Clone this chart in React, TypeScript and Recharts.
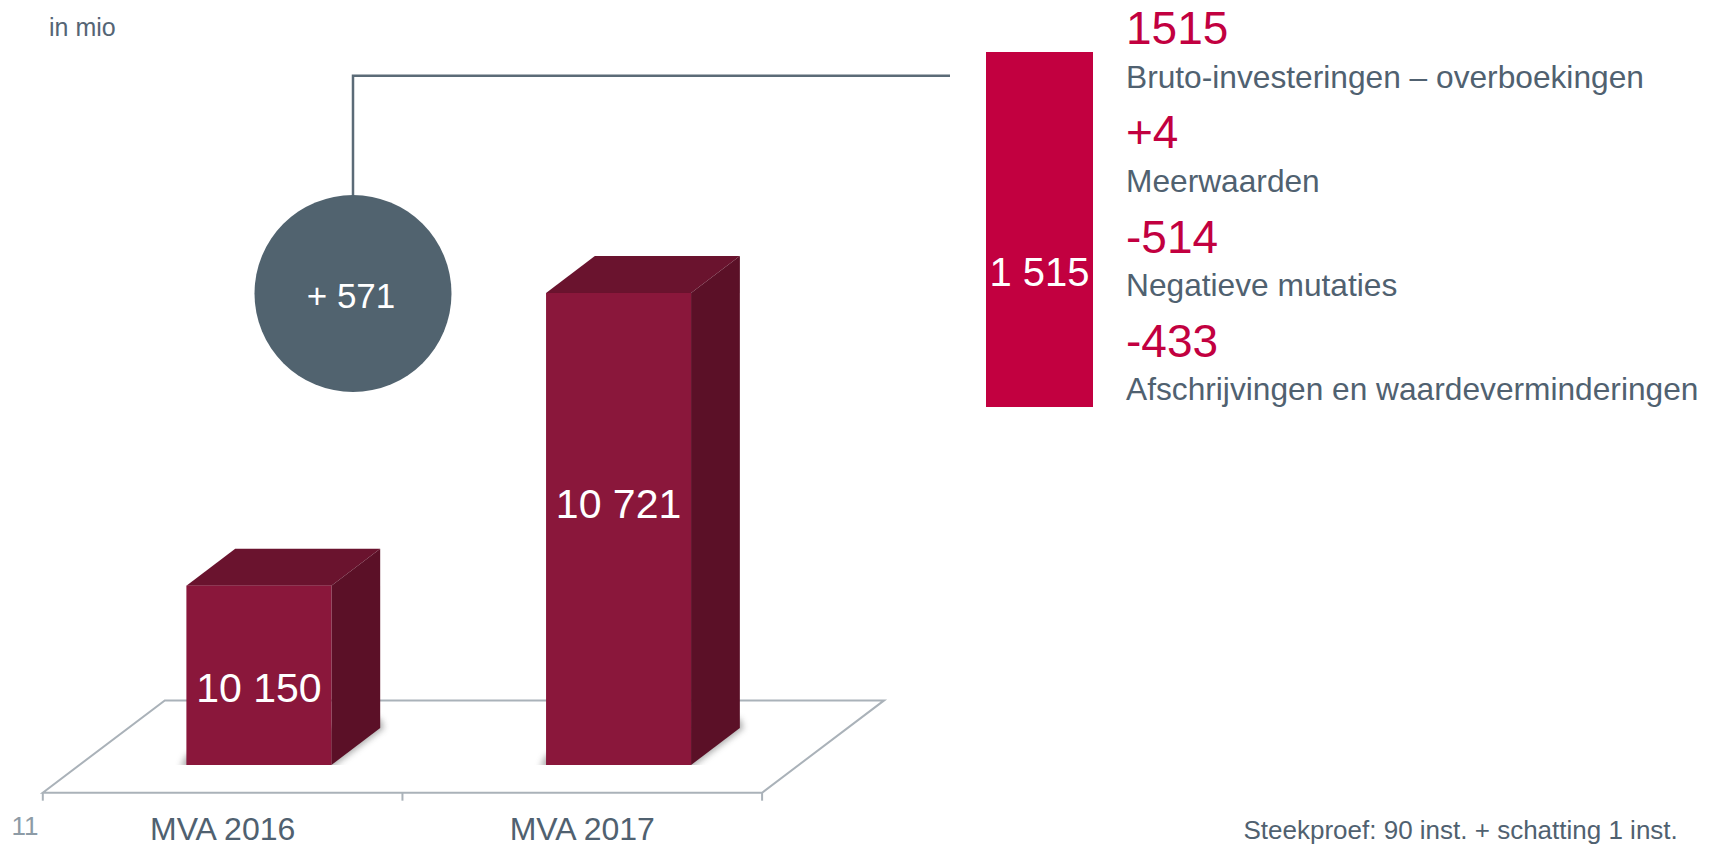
import React from 'react';
import { BarChart, Bar, XAxis, YAxis, ReferenceArea, LabelList } from 'recharts';

// MVA per year (in mio)
const categories = ['MVA 2016', 'MVA 2017'];
const mvaValues = [10150, 10721];
const yDomain = [9800, 11000];

// investment block on the right
const investmentName = 'Investeringen';
const investmentValue = 1515;

const breakdownValues = ['1515', '+4', '-514', '-433'];
const breakdownLabels = [
  'Bruto-investeringen – overboekingen',
  'Meerwaarden',
  'Negatieve mutaties',
  'Afschrijvingen en waardeverminderingen',
];

const unitLabel = 'in mio';
const pageNumber = '11';
const footnote = 'Steekproef: 90 inst. + schatting 1 inst.';

const mvaData = categories.map((name, i) => ({ name, value: mvaValues[i] }));
const investmentData = [{ name: investmentName, value: investmentValue }];

const FONT = '"Liberation Sans", Arial, sans-serif';
const SLATE = '#506170';
const CRIMSON = '#c20040';
const FLOOR_STROKE = '#aab2b9';

// pseudo 3D floor: depth offset and where the bar front sits in it
const FLOOR_DX = 122;
const FLOOR_DY = 92.3;
const FRONT = 0.3;
const BAR_DEPTH = 0.4;

const fmt = (n: number) => String(n).replace(/\B(?=(\d{3})+(?!\d))/g, ' ');

const Floor = (props: any) => {
  const { x, y, width, height } = props;
  const base = y + height;
  const fx = x - FRONT * FLOOR_DX;
  const fy = base + FRONT * FLOOR_DY;
  const bx = x + (1 - FRONT) * FLOOR_DX;
  const by = base - (1 - FRONT) * FLOOR_DY;
  const step = width / categories.length;
  return (
    <g>
      <defs>
        <filter id="barShadow" x="-20%" y="-20%" width="140%" height="140%">
          <feGaussianBlur stdDeviation="3" />
        </filter>
      </defs>
      <polygon
        points={`${fx},${fy} ${fx + width},${fy} ${bx + width},${by} ${bx},${by}`}
        fill="none"
        stroke={FLOOR_STROKE}
        strokeWidth={2}
      />
      {[0, 1, 2].map((i) => (
        <line key={i} x1={fx + i * step} x2={fx + i * step} y1={fy} y2={fy + 8} stroke={FLOOR_STROKE} strokeWidth={2} />
      ))}
    </g>
  );
};

const Box3D = (props: any) => {
  const { x, y, width, height } = props;
  const dx = BAR_DEPTH * FLOOR_DX;
  const dy = BAR_DEPTH * FLOOR_DY;
  const b = y + height;
  return (
    <g>
      <polygon
        points={`${x - 6},${b + 3} ${x + width},${b + 3} ${x + width + dx + 4},${b - dy} ${x + width + dx},${b - dy - 10} ${x},${b - 10}`}
        fill="#6b6b6b"
        opacity={0.55}
        filter="url(#barShadow)"
      />
      <polygon points={`${x},${y} ${x + dx},${y - dy} ${x + width + dx},${y - dy} ${x + width},${y}`} fill="#6a132e" />
      <polygon points={`${x + width},${y} ${x + width + dx},${y - dy} ${x + width + dx},${b - dy} ${x + width},${b}`} fill="#5b1027" />
      <rect x={x} y={y} width={width} height={height} fill="#8a173b" />
    </g>
  );
};

const BarValueLabel = (props: any) => {
  const vb = props.viewBox || props;
  const { x, y, width, height } = vb;
  const b = y + height;
  return (
    <text x={x + width / 2} y={b + 50.5 - 0.63 * height} textAnchor="middle" fill="#ffffff" fontSize={41} fontFamily={FONT}>
      {fmt(props.value)}
    </text>
  );
};

const CategoryTick = (props: any) => {
  const { x, y, payload } = props;
  return (
    <text x={x - FRONT * FLOOR_DX} y={y + 74.5} textAnchor="middle" fill={SLATE} fontSize={32} fontFamily={FONT}>
      {payload.value}
    </text>
  );
};

const InvestmentLabel = (props: any) => {
  const vb = props.viewBox || props;
  const { x, y, width, height } = vb;
  return (
    <text x={x + width / 2} y={y + height / 2 + 56} textAnchor="middle" fill="#ffffff" fontSize={40} fontFamily={FONT}>
      {fmt(props.value)}
    </text>
  );
};

export default function App() {
  const diff = mvaValues[1] - mvaValues[0];
  return (
    <div style={{ position: 'absolute', left: 0, top: 0, width: 1714, height: 846, overflow: 'hidden', background: '#fff', fontFamily: FONT }}>
      <div style={{ position: 'absolute', left: 0, top: 0 }}>
        <BarChart width={1714} height={846} data={mvaData} margin={{ top: 150, right: 915.3, left: 79.4, bottom: 21 }}>
          <XAxis dataKey="name" axisLine={false} tickLine={false} tickSize={0} tickMargin={0} height={60} tick={<CategoryTick />} interval={0} />
          <YAxis hide domain={yDomain} allowDataOverflow />
          <ReferenceArea x1={categories[0]} x2={categories[categories.length - 1]} y1={yDomain[0]} y2={yDomain[1]} shape={<Floor />} ifOverflow="visible" />
          <Bar dataKey="value" barSize={145} shape={<Box3D />} isAnimationActive={false}>
            <LabelList dataKey="value" content={<BarValueLabel />} />
          </Bar>
        </BarChart>
      </div>

      <div style={{ position: 'absolute', left: 986, top: 52 }}>
        <BarChart width={107} height={355} data={investmentData} margin={{ top: 0, right: 0, left: 0, bottom: 0 }} barCategoryGap={0}>
          <XAxis dataKey="name" hide />
          <YAxis hide domain={[0, investmentValue]} />
          <Bar dataKey="value" fill={CRIMSON} isAnimationActive={false}>
            <LabelList dataKey="value" content={<InvestmentLabel />} />
          </Bar>
        </BarChart>
      </div>

      <svg width={1714} height={846} style={{ position: 'absolute', left: 0, top: 0, pointerEvents: 'none' }}>
        <text x={49} y={35.7} fontSize={25} fill="#556575" fontFamily={FONT}>{unitLabel}</text>

        <path d="M 353 200 V 75.7 H 950" fill="none" stroke="#5b6b77" strokeWidth={2.5} />
        <circle cx={353} cy={293.5} r={98.5} fill="#51636f" />
        <text x={351} y={308} textAnchor="middle" fill="#ffffff" fontSize={35} fontFamily={FONT}>{`+ ${diff}`}</text>

        {breakdownValues.map((v, i) => (
          <text key={'v' + i} x={1126} y={44 + i * 104.3} fill={CRIMSON} fontSize={46} fontFamily={FONT}>{v}</text>
        ))}
        {breakdownLabels.map((l, i) => (
          <text key={'l' + i} x={1126} y={87.5 + i * 104} fill={SLATE} fontSize={31.7} fontFamily={FONT}>{l}</text>
        ))}

        <text x={11.5} y={835} fill="#8d9ba6" fontSize={26} fontFamily={FONT}>{pageNumber}</text>
        <text x={1243.5} y={839} fill={SLATE} fontSize={26} fontFamily={FONT}>{footnote}</text>
      </svg>
    </div>
  );
}
